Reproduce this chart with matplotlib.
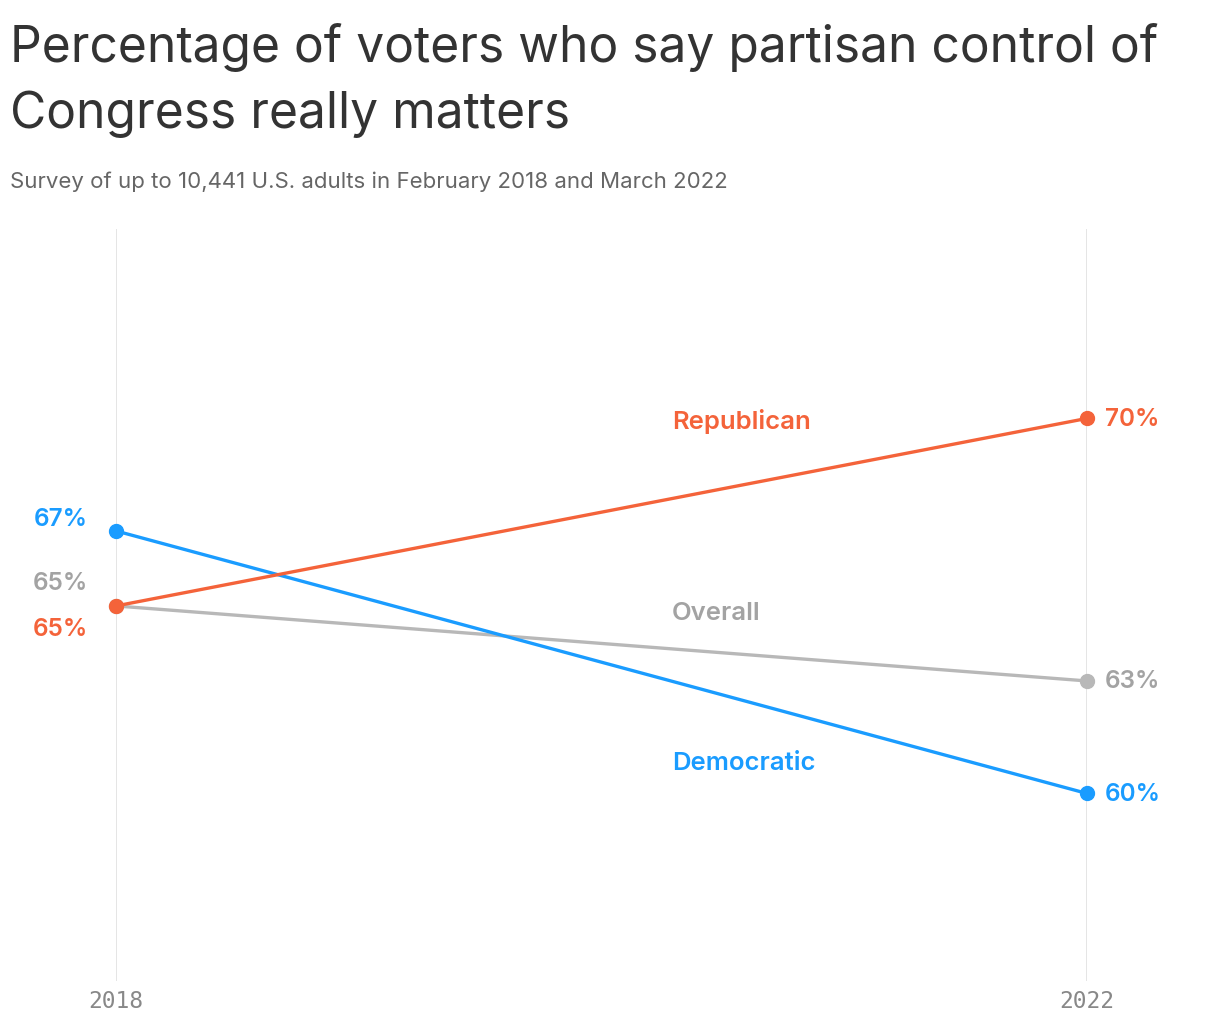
"""Slope chart: voters who say partisan control of Congress really matters."""

import matplotlib.pyplot as plt

years = [2018, 2022]
series_names = ["Republican", "Overall", "Democratic"]
republican = [65, 70]
overall = [65, 63]
democratic = [67, 60]

colors = {"Republican": "#F4633A", "Overall": "#B8B8B8", "Democratic": "#1A9CFF"}
label_colors = {"Republican": "#F4633A", "Overall": "#A3A3A3", "Democratic": "#1A9CFF"}

plt.rcParams["font.family"] = ["Inter", "DejaVu Sans"]

fig = plt.figure(figsize=(12.2, 10.2), dpi=100)
ax = fig.add_axes([116 / 1220, 1 - 982 / 1020, (1087 - 116) / 1220, 752 / 1020])
ax.set_xlim(years[0], years[1])
ax.set_ylim(55, 75.05)

for yr in years:
    ax.axvline(yr, color="#E0E0E0", lw=1.2, zorder=0)

data = {"Republican": republican, "Overall": overall, "Democratic": democratic}
# draw overall underneath the party lines
for name in ["Overall", "Democratic", "Republican"]:
    vals = data[name]
    ax.plot(years, vals, color=colors[name], lw=2.4, marker="o", markersize=10,
            clip_on=False, zorder=3 if name != "Overall" else 2)

# end labels on the right
for name in series_names:
    ax.annotate(f"{data[name][1]}%", (years[1], data[name][1]), xytext=(13, 0),
                textcoords="offset points", ha="left", va="center",
                fontsize=17.5, fontweight="semibold", color=label_colors[name])

# start labels on the left (stacked to avoid overlap)
left_offsets = {"Democratic": 9, "Overall": 17, "Republican": -16}
for name in ["Democratic", "Overall", "Republican"]:
    ax.annotate(f"{data[name][0]}%", (years[0], data[name][0]),
                xytext=(-20, left_offsets[name]), textcoords="offset points",
                ha="right", va="center", fontsize=17.5, fontweight="semibold",
                color=label_colors[name])

# series name labels
name_pos = {"Republican": 69.95, "Overall": 64.83, "Democratic": 60.83}
for name in series_names:
    ax.text(2020.29, name_pos[name], name, ha="left", va="center",
            fontsize=18.5, fontweight="semibold", color=label_colors[name])

ax.set_xticks(years)
ax.set_xticklabels([str(y) for y in years], family="DejaVu Sans Mono",
                   fontsize=16.5, color="#888888")
ax.tick_params(axis="x", length=0, pad=6)
ax.set_yticks([])
for spine in ax.spines.values():
    spine.set_visible(False)

fig.text(10 / 1220, 1 - 62 / 1020, "Percentage of voters who say partisan control of",
         ha="left", va="baseline", fontsize=35.8, color="#333333")
fig.text(10 / 1220, 1 - 128 / 1020, "Congress really matters",
         ha="left", va="baseline", fontsize=35.8, color="#333333")
fig.text(10 / 1220, 1 - 188 / 1020, "Survey of up to 10,441 U.S. adults in February 2018 and March 2022",
         ha="left", va="baseline", fontsize=16, color="#666666")

fig.savefig("out.png", dpi=100, facecolor="white")
